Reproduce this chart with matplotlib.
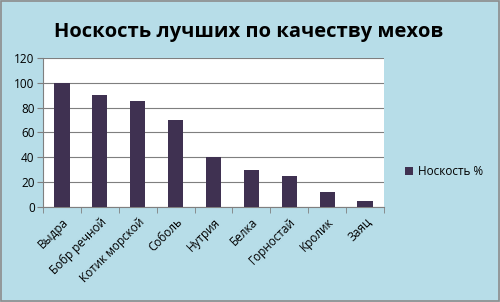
import matplotlib
matplotlib.use("Agg")
import matplotlib.pyplot as plt
from matplotlib.patches import Rectangle

categories = ["Выдра", "Бобр речной", "Котик морской", "Соболь", "Нутрия", "Белка", "Горностай", "Кролик", "Заяц"]
values = [100, 90, 85, 70, 40, 30, 25, 12, 5]
yticks = [0, 20, 40, 60, 80, 100, 120]
title = "Носкость лучших по качеству мехов"
series_name = "Носкость %"

bg = "#B7DDE8"
bar_color = "#3F3151"

plt.rcParams['font.family'] = ['Open Sans', 'DejaVu Sans']

fig = plt.figure(figsize=(5, 3.02), dpi=100, facecolor=bg)
fig.patches.append(Rectangle((0.001, 0.002), 0.997, 0.995, transform=fig.transFigure,
                             fill=False, edgecolor="#8C8C8C", linewidth=1.2))
ax = fig.add_axes([0.086, 0.3146, 0.682, 0.4934])
ax.set_facecolor("white")
x = list(range(len(categories)))
ax.bar(x, values, width=0.4, color=bar_color, zorder=3, label=series_name)
ax.set_xlim(-0.5, len(categories) - 0.5)
ax.set_ylim(0, 120)
ax.set_yticks(yticks)
ax.set_yticklabels([str(v) for v in yticks], fontsize=8.5)
ax.yaxis.grid(True, color="#7F7F7F", linewidth=0.8, zorder=0)
ax.set_xticks(x)
ax.set_xticklabels(categories, rotation=45, ha="right", rotation_mode="anchor", fontsize=8.5)
ax.set_xticks([i - 0.5 for i in range(len(categories) + 1)], minor=True)
ax.tick_params(axis="x", which="major", length=0, pad=6)
ax.tick_params(axis="x", which="minor", length=4, color="#7F7F7F")
ax.tick_params(axis="y", length=4, color="#7F7F7F", pad=2)
for s in ["top", "right"]:
    ax.spines[s].set_visible(False)
ax.spines["left"].set_color("#7F7F7F")
ax.spines["bottom"].set_color("#7F7F7F")

fig.text(0.497, 0.895, title, ha="center", va="center", fontsize=14.5, fontweight="bold")

leg = ax.legend(loc="center left", bbox_to_anchor=(1.03, 0.235), frameon=False, fontsize=8.5,
                handlelength=0.7, handleheight=0.7, handletextpad=0.4)

fig.savefig("out.png", dpi=100, facecolor=bg)
